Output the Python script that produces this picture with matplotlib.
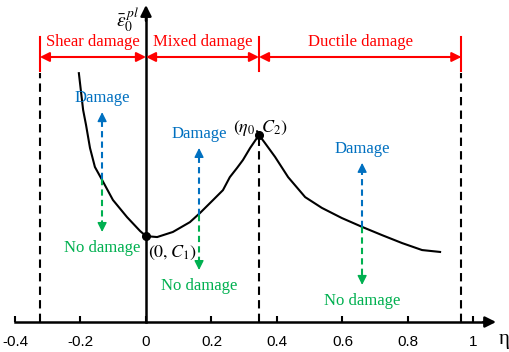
import matplotlib
matplotlib.use("Agg")
import matplotlib.pyplot as plt

# Curve (eta, equivalent plastic strain, arbitrary units)
eta = [-0.205, -0.192, -0.183, -0.171, -0.156, -0.134, -0.101, -0.058, -0.018, 0.0,
       0.034, 0.082, 0.134, 0.165, 0.205, 0.235, 0.256, 0.278, 0.296, 0.318, 0.345,
       0.363, 0.394, 0.434, 0.486, 0.537, 0.598, 0.660, 0.721, 0.782, 0.843, 0.898]
strain = [0.785, 0.669, 0.621, 0.549, 0.489, 0.448, 0.385, 0.331, 0.287, 0.271,
          0.268, 0.284, 0.315, 0.344, 0.385, 0.416, 0.457, 0.486, 0.511, 0.549, 0.590,
          0.565, 0.521, 0.457, 0.394, 0.360, 0.328, 0.300, 0.274, 0.249, 0.227, 0.221]

# key points
pt_eta = [0.0, 0.345]
pt_strain = [0.271, 0.590]
pt_labels = [r"$\left(0,C_1\right)$", r"$\left(\eta_0,C_2\right)$"]

# region boundaries and names
bounds = [-0.324, 0.0, 0.345, 0.963]
region_names = ["Shear damage", "Mixed damage", "Ductile damage"]

# damage / no damage arrows: x, blue tip, crossing, green tip
arr_x = [-0.134, 0.162, 0.660]
arr_top = [0.662, 0.549, 0.502]
arr_mid = [0.450, 0.338, 0.300]
arr_bot = [0.284, 0.164, 0.117]

xticks = [-0.4, -0.2, 0, 0.2, 0.4, 0.6, 0.8, 1]
xticklabels = ["-0.4", "-0.2", "0", "0.2", "0.4", "0.6", "0.8", "1"]

red = "#FF0000"
blue = "#0070C0"
green = "#00B050"

plt.rcParams["mathtext.fontset"] = "stix"
plt.rcParams["font.family"] = "serif"
plt.rcParams["font.serif"] = ["Liberation Serif", "DejaVu Serif"]
plt.rcParams["font.sans-serif"] = ["Liberation Sans", "DejaVu Sans"]

fig = plt.figure(figsize=(5.1, 3.52), dpi=100)
ax = fig.add_axes([0, 0, 1, 1])
ax.set_xlim(-0.4458, 1.1115)
ax.set_ylim(-0.0946, 1.0158)

# axes through the origin
for s in ["top", "right"]:
    ax.spines[s].set_visible(False)
ax.spines["bottom"].set_position(("data", 0))
ax.spines["left"].set_position(("data", 0))
ax.spines["bottom"].set_bounds(-0.4, 1.05)
ax.spines["left"].set_bounds(0, 0.97)
ax.spines["bottom"].set_linewidth(1.8)
ax.spines["left"].set_linewidth(1.8)
ax.set_xticks(xticks)
ax.set_xticklabels(xticklabels, family="sans-serif", fontsize=11)
ax.tick_params(axis="x", direction="in", length=4, width=1.5, pad=9)
ax.set_yticks([])
ax.annotate("", xy=(1.069, 0), xytext=(1.03, 0),
            arrowprops=dict(arrowstyle="-|>", color="k", lw=1.8, mutation_scale=16,
                            shrinkA=0, shrinkB=0))
ax.annotate("", xy=(0, 1.0), xytext=(0, 0.95),
            arrowprops=dict(arrowstyle="-|>", color="k", lw=1.8, mutation_scale=16,
                            shrinkA=0, shrinkB=0))
ax.text(1.094, -0.055, "η", fontsize=15, ha="center", va="center")
ax.text(-0.055, 0.955, r"$\bar{\varepsilon}_0^{\,pl}$", fontsize=14, ha="center", va="center")

# boundaries
ax.plot([bounds[0]] * 2, [0, 0.785], "k--", lw=1.5, dashes=(4, 2.5))
ax.plot([bounds[2]] * 2, [0, pt_strain[1]], "k--", lw=1.5, dashes=(4, 2.5))
ax.plot([bounds[3]] * 2, [0, 0.785], "k--", lw=1.5, dashes=(4, 2.5))
for b in [bounds[0], bounds[2], bounds[3]]:
    ax.plot([b, b], [0.792, 0.899], color=red, lw=1.5)
for i, name in enumerate(region_names):
    x0, x1 = bounds[i], bounds[i + 1]
    ax.annotate("", xy=(x1, 0.836), xytext=(x0, 0.836),
                arrowprops=dict(arrowstyle="<|-|>", color=red, lw=1.5,
                                mutation_scale=14, shrinkA=0, shrinkB=0))
    ax.text((x0 + x1) / 2, 0.882, name, color=red, fontsize=12,
            ha="center", va="center")

# curve
ax.plot(eta, strain, color="k", lw=1.5)
ax.plot(pt_eta, pt_strain, "o", color="k", ms=5.5)
ax.text(0.006, 0.218, pt_labels[0], fontsize=13, ha="left", va="center")
ax.text(0.351, 0.612, pt_labels[1], fontsize=13, ha="center", va="center")

# damage arrows
for x, t, m, b in zip(arr_x, arr_top, arr_mid, arr_bot):
    ax.plot([x, x], [m, t - 0.03], color=blue, lw=1.5, ls="--", dashes=(3, 2))
    ax.plot([x, x], [m, b + 0.03], color=green, lw=1.5, ls="--", dashes=(3, 2))
    ax.annotate("", xy=(x, t), xytext=(x, t - 0.035),
                arrowprops=dict(arrowstyle="-|>", color=blue, lw=1, mutation_scale=14,
                                shrinkA=0, shrinkB=0))
    ax.annotate("", xy=(x, b), xytext=(x, b + 0.035),
                arrowprops=dict(arrowstyle="-|>", color=green, lw=1, mutation_scale=14,
                                shrinkA=0, shrinkB=0))
    ax.text(x, t + 0.045, "Damage", color=blue, fontsize=12,
            ha="center", va="center")
    ax.text(x, b - 0.05, "No damage", color=green, fontsize=12,
            ha="center", va="center")

fig.savefig("out.png", dpi=100)
